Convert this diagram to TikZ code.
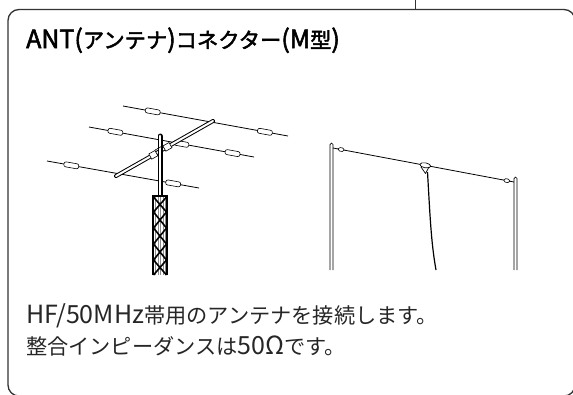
\documentclass[tikz,border=0pt]{standalone}
\usepackage{fontspec}
\usetikzlibrary{shapes.geometric}
\setmainfont{Noto Sans CJK JP}
\newfontfamily\headfont{Noto Sans CJK JP}[FakeBold=2.2]
% Latin runs are set a size larger than the kana and kanji around them
\newcommand\latrun[1]{{\fontsize{25}{26}\selectfont #1}}
\begin{document}
\begin{tikzpicture}[x=1pt,y=-1pt,
  frame/.style={line width=1.3pt, draw=black!80},
  wire/.style={line width=0.8pt, black},
  insul/.style={draw, fill=white, line width=0.6pt, rounded corners=2pt,
    minimum width=15pt, minimum height=5pt, inner sep=0pt, sloped},
  smallinsul/.style={draw, fill=white, line width=0.6pt, rounded corners=1.6pt,
    minimum width=6pt, minimum height=3.5pt, inner sep=0pt, sloped},
  tubeout/.style={line width=4pt, black, line cap=round},
  tubein/.style={line width=2pt, white, line cap=round},
  clampbox/.style={draw, fill=white, line width=0.6pt, minimum width=7pt,
    minimum height=6pt, inner sep=0pt, sloped},
  pole/.style={line width=0.7pt, black},
  title/.style={anchor=base west, inner sep=0pt, font=\headfont\fontsize{21.3}{26}\selectfont},
  body/.style={anchor=base west, inner sep=0pt, text=black!85, font=\fontsize{21.2}{26}\selectfont}]
\useasboundingbox (0,0) rectangle (573,394);

% panel outline and leader
\draw[frame] (8,9.5) [rounded corners=11pt] rectangle (575,396);
\coordinate (lead) at (415.5,0);
\coordinate (leadend) at (415.5,9.5);
\draw[line width=1pt, black!80] (lead) -- (leadend);

% texts
\node[title] (ttl) at (26,48)
  {\latrun{ANT(}アンテナ\latrun{)}コネクター\latrun{(M}型\latrun{)}};
\node[body] (l1) at (26,323) {\latrun{HF/50MHz}帯用のアンテナを接続します。};
\node[body] (l2) at (26,354) {整合インピーダンスは\latrun{50Ω}です。};

% ---- Yagi beam on a lattice tower ----
\coordinate (t1) at (123,106);  \coordinate (t2) at (288,136);
\coordinate (m1) at (89,127);   \coordinate (m2) at (254,157);
\coordinate (b1) at (47,161);   \coordinate (b2) at (199,188);
\draw[wire] (t1) -- (t2) node[insul,pos=0.18] (ti1) {} node[insul,pos=0.86] (ti2) {};
\draw[wire] (m1) -- (m2) node[insul,pos=0.16] (mi1) {} node[insul,pos=0.56] (mi2) {}
  node[insul,pos=0.87] (mi3) {};
\draw[wire] (b1) -- (b2) node[insul,pos=0.16] (bi1) {} node[insul,pos=0.83] (bi2) {};

% boom
\coordinate (boomA) at (116,176);
\coordinate (boomB) at (213,121);
\draw[tubeout] (boomA) -- (boomB);
\draw[tubein] (boomA) -- (boomB);

% mast
\coordinate (mastT) at (160,136);
\coordinate (mastB) at (160,197);
\draw[line width=5pt, black, line cap=round] (mastT) -- (mastB);
\draw[line width=2.6pt, white, line cap=round] (mastT) -- (mastB);

% clamp plates
\path (boomA) -- (boomB) node[clampbox,pos=0.385] (cl1) {} node[clampbox,pos=0.53] (cl2) {};
\draw[line width=0.6pt] (cl1.north east) -- (cl2.north west);

% tower
\coordinate (twA) at (153,196);
\coordinate (twB) at (167,275);
\fill[white] (twA) rectangle (twB);
\foreach \x in {155.5,158,160.5,163,165.5}
  \draw[black!45, line width=0.8pt] (\x,197) -- (\x,275);
\draw[line width=1.6pt, line join=round]
  (153.5,197) -- (166.5,212) -- (153.5,228) -- (166.5,244) -- (153.5,260) -- (166.5,275);
\draw[line width=1.6pt, line join=round]
  (166.5,197) -- (153.5,212) -- (166.5,228) -- (153.5,244) -- (166.5,260) -- (153.5,275);
\draw[line width=1.6pt] (153,275) -- (153,196) -- (167,196) -- (167,275);

% ---- wire dipole between two poles ----
\draw[pole] (330,270) -- (330,144.5) arc[start angle=180,end angle=360,radius=1.5] -- (333,270);
\draw[pole] (514,270) -- (514,178.5) arc[start angle=180,end angle=360,radius=1.5] -- (517,270);
\coordinate (wl) at (333,148);
\coordinate (wr) at (514,182);
\draw[wire] (wl) -- (wr) node[smallinsul,pos=0.045] (di1) {} node[smallinsul,pos=0.96] (di2) {}
  node[draw, fill=white, line width=0.7pt, sloped, ellipse, minimum width=11pt,
    minimum height=5pt, inner sep=0pt, pos=0.51] (balun) {};
\draw[line width=0.7pt, line join=round] (421,167) -- (425.5,173.5) -- (429,167);
\coordinate (coaxA) at (427.5,172);
\coordinate (coaxB) at (436,270);
\draw[line width=1.2pt] (coaxA) .. controls (430,215) and (431,242) .. (coaxB);
\end{tikzpicture}
\end{document}
